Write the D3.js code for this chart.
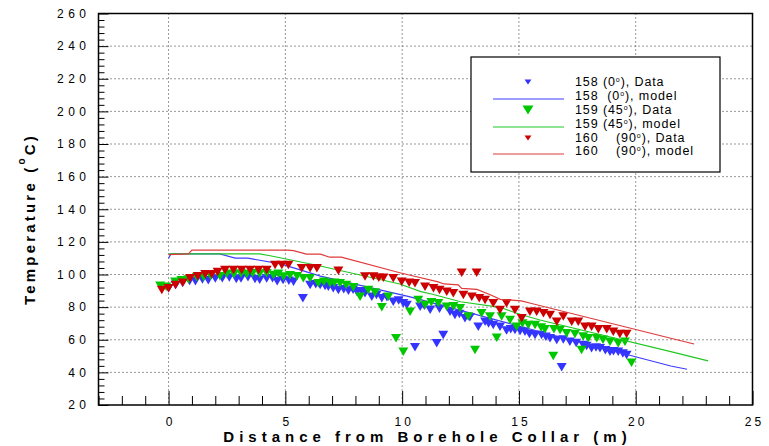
<!DOCTYPE html>
<html><head><meta charset="utf-8">
<script src="https://cdn.jsdelivr.net/npm/d3@7"></script>
<style>
html,body{margin:0;padding:0;background:#fff;}
svg{display:block;font-family:Arial,"Liberation Sans",sans-serif;}
</style></head>
<body>
<svg id="chart" width="769" height="446"></svg>
<script>
// ---------- data ----------
const xTicksMajor = [0, 5, 10, 15, 20, 25];
const yTicksMajor = [20, 40, 60, 80, 100, 120, 140, 160, 180, 200, 220, 240, 260];

const dist158 = [0.0,0.3,0.6,0.9,1.15,1.45,1.7,2.0,2.3,2.6,2.9,3.1,3.4,3.7,3.9,4.2,4.45,4.65,4.9,5.15,5.35,5.75,6.06,6.3,6.49,6.7,6.84,7.05,7.27,7.5,7.7,7.9,8.06,8.25,8.41,8.7,8.9,9.13,9.35,9.62,9.85,10.05,10.2,10.55,10.77,10.95,11.2,11.48,11.6,11.76,12.05,12.26,12.45,12.69,12.9,13.26,13.55,13.7,13.9,14.19,14.47,14.65,14.83,15.05,15.26,15.45,15.69,15.97,16.15,16.33,16.62,16.83,16.9,17.18,17.45,17.75,17.9,18.11,18.3,18.47,18.7,18.9,19.05,19.25,19.45,19.61];
const temp158 = [91.5,93.5,95,96,95.8,97,96.5,97.5,97.7,98.2,97.2,97.5,98.3,97.2,96.8,97.5,97.7,95.8,96.6,96.2,95.6,85.4,93.6,94.0,93.6,93,92.5,91.5,90.5,91,90.1,90.6,89.5,89.8,88.5,86.4,87.5,85.4,86,83.3,84,82.4,81.3,55.4,80.3,80.8,78.4,57.8,79,62.9,77.2,75.2,75.8,73.2,73.8,68,71,70,69,68,65.6,66.5,66,65.3,64.9,63.5,62.9,62.9,61.8,60.9,59.9,43.1,60.2,58.8,58,56.8,56.2,54.8,55.2,54.8,53.5,52.7,53,52.7,51.5,50.7];

const dist159 = [-0.36,-0.1,0.28,0.55,0.85,1.21,1.5,1.8,2.2,2.5,2.8,3.1,3.35,3.6,3.9,4.2,4.49,4.7,4.92,5.2,5.5,5.77,6.06,6.41,6.65,6.91,7.1,7.34,7.6,7.91,8.2,8.55,8.84,9.13,9.41,9.74,10.05,10.34,10.69,10.98,11.25,11.55,11.91,12.2,12.48,12.83,13.12,13.4,13.76,14.05,14.26,14.62,14.9,15.15,15.4,15.69,15.95,16.11,16.47,16.5,16.76,17.04,17.4,17.68,17.75,17.97,18.33,18.6,18.9,19.25,19.54,19.82];
const temp159 = [93.1,92.5,95.6,96.5,97,98.3,98.5,99.2,99,100.5,100.2,100.6,100.3,100.8,100.4,100.7,99.7,100.5,98.7,99.5,99,97.7,97.7,94.6,95.5,94.6,95,94.6,93.5,92.2,86.4,90.5,88.9,79.9,86.4,60.9,52.7,77.2,84.4,81.3,83,82.4,80.3,80.5,79.3,74.2,53.7,76.2,74.2,61.3,74.2,72.1,68,70,69,69,67.5,66.4,50,66.5,66,64,63.5,53.7,62,60.9,60.9,60,58.8,57.8,58.8,45.9];

const dist160 = [-0.29,0,0.3,0.61,0.92,1.25,1.57,1.85,2.1,2.42,2.78,3.13,3.49,3.85,4.2,4.56,4.85,5.13,5.7,6.06,6.35,7.27,8.41,8.77,9.0,9.2,9.62,9.98,10.3,10.55,10.98,11.34,11.6,11.91,12.19,12.55,12.62,12.98,13.19,13.3,13.55,13.9,14.19,14.47,14.83,15.12,15.47,15.76,16.05,16.33,16.62,16.9,17.26,17.54,17.83,18.11,18.4,18.76,19.04,19.32,19.61];
const temp160 = [90.5,91.5,93.5,95,97.7,99,100.1,100.1,101.5,102.8,102.8,102.8,102.8,102.8,102.8,105.8,105.8,105.8,103.8,103.8,103.8,102.3,98.7,98.7,98,98,97.7,95.6,95,94.6,92.5,91.5,90.5,89.5,88.5,101.1,87.4,86.4,101.1,85.5,84.4,82.4,78.3,82.4,78.3,73.2,77.2,77.2,76.2,75.2,71.1,74.2,71.1,71.1,68,68,66.4,66.4,64.9,63.5,63.5];

const model158X = [0,0.1,2.2,2.85,3.4,4.8,6.5,10.3,15.9,21.5,22.2];
const model158T = [110,112.6,112.6,110,110,106.5,99,86.4,64.9,43.9,41.9];
const model159X = [0,3.9,4.35,6.5,9.9,10.8,11.3,12.5,14.2,15,15.9,21.5,23.1];
const model159T = [112.6,112.6,111.5,105.2,94.2,89.5,87.9,83.3,79.9,75.8,72.1,52.7,47];
const model160X = [0,0.85,1.0,5.1,5.35,5.9,6.5,6.9,7.4,9.9,10.3,11.5,11.8,12.4,12.55,13.2,13.8,14.2,15.1,15.5,21.5,22.5];
const model160T = [112.2,112.6,115,115,114.6,112.5,112.5,110.6,110.6,101.1,99.7,95.6,94.2,93.6,91.5,90.9,87.4,84.8,83.8,82.4,60.9,57.4];

const colorsData = ["#3434ff", "#00c800", "#cc0000"];
const colorsLine = ["#3c3cff", "#22c822", "#e03a3a"];

// ---------- layout ----------
const svg = d3.select("#chart");
const L = 98.5, R = 752.5, T = 13.5, B = 405;
const x = d3.scaleLinear().domain([-3, 25]).range([L, R]);
const y = d3.scaleLinear().domain([20, 260]).range([B, T]);

// grid
const grid = svg.append("g").attr("stroke", "#333").attr("stroke-width", 1).attr("stroke-dasharray", "1,3");
xTicksMajor.filter(v => v < 25).forEach(v => {
  grid.append("line").attr("x1", x(v)).attr("x2", x(v)).attr("y1", T).attr("y2", B);
});
yTicksMajor.filter(v => v > 20 && v < 260).forEach(v => {
  grid.append("line").attr("x1", L).attr("x2", R).attr("y1", y(v)).attr("y2", y(v));
});

// x axis ticks (inward)
const xMinor = d3.range(-3, 25.001, 1);
const xa = svg.append("g").attr("transform", `translate(0,${B})`);
xa.call(d3.axisBottom(x).tickValues(xMinor.filter(v => v % 5 !== 0)).tickSize(-9).tickFormat(""));
xa.select(".domain").remove();
const xb = svg.append("g").attr("transform", `translate(0,${B})`);
xb.call(d3.axisBottom(x).tickValues(xTicksMajor).tickSize(-14).tickPadding(0).tickFormat(d3.format("d")));
xb.select(".domain").remove();
xb.selectAll("text").attr("font-size", 12).attr("fill", "#000").attr("y", 12.5)
  .attr("letter-spacing", 3).attr("dx", 1.5).attr("font-family", "Arial, 'Liberation Sans', sans-serif");

// y axis ticks (inward)
const yMinor = d3.range(20, 260.001, 4);
const ya = svg.append("g").attr("transform", `translate(${L},0)`);
ya.call(d3.axisLeft(y).tickValues(yMinor.filter(v => v % 20 !== 0)).tickSize(-6).tickFormat(""));
ya.select(".domain").remove();
const yb = svg.append("g").attr("transform", `translate(${L},0)`);
yb.call(d3.axisLeft(y).tickValues(yTicksMajor).tickSize(-10).tickPadding(8).tickFormat(d3.format("d")));
yb.select(".domain").remove();
yb.selectAll("text").attr("font-size", 12).attr("fill", "#000").attr("letter-spacing", 4.5)
  .attr("font-family", "Arial, 'Liberation Sans', sans-serif");
svg.selectAll("g.tick line").attr("stroke", "#000");

// frame
svg.append("rect").attr("x", L).attr("y", T).attr("width", R - L).attr("height", B - T)
  .attr("fill", "none").attr("stroke", "#000").attr("stroke-width", 1.5);

// marks
const tri = (w, h) => `M${-w/2},${-h/2}L${w/2},${-h/2}L0,${h/2}Z`;
const line = d3.line().x(d => x(d[0])).y(d => y(d[1]));
const dataSets = [[dist158, temp158], [dist159, temp159], [dist160, temp160]];
const modelSets = [[model158X, model158T], [model159X, model159T], [model160X, model160T]];
const plot = svg.append("g");
dataSets.forEach((ds, i) => {
  const pts = ds[0].map((d, k) => [d, ds[1][k]]);
  plot.append("g").selectAll("path").data(pts).join("path")
    .attr("d", tri(10, 8.5))
    .attr("transform", d => `translate(${x(d[0])},${y(d[1])})`)
    .attr("fill", colorsData[i]);
  const mp = modelSets[i][0].map((d, k) => [d, modelSets[i][1][k]]);
  plot.append("path").datum(mp).attr("d", line).attr("fill", "none")
    .attr("stroke", colorsLine[i]).attr("stroke-width", 1.2);
});

// legend
const lg = svg.append("g");
lg.append("rect").attr("x", 471).attr("y", 57).attr("width", 249).attr("height", 115)
  .attr("fill", "#fff").attr("stroke", "#000").attr("stroke-width", 1.2);
const rows = [
  {type: "data", i: 0, y: 86, pre: "158 (0", post: "), Data", tw: 7, th: 5},
  {type: "line", i: 0, y: 100, pre: "158  (0", post: "), model"},
  {type: "data", i: 1, y: 114, pre: "159 (45", post: "), Data", tw: 11, th: 9},
  {type: "line", i: 1, y: 128, pre: "159 (45", post: "), model"},
  {type: "data", i: 2, y: 142, pre: "160    (90", post: "), Data", tw: 7, th: 5},
  {type: "line", i: 2, y: 155, pre: "160    (90", post: "), model"}
];
rows.forEach(r => {
  if (r.type === "data") {
    lg.append("path").attr("d", tri(r.tw, r.th))
      .attr("transform", `translate(528,${r.y - 4})`).attr("fill", colorsData[r.i]);
  } else {
    lg.append("line").attr("x1", 493).attr("x2", 564).attr("y1", r.y - 1).attr("y2", r.y - 1)
      .attr("stroke", colorsLine[r.i]).attr("stroke-width", 1.2);
  }
  const t = lg.append("text").attr("x", 575).attr("y", r.y).attr("font-size", 12.5)
    .attr("letter-spacing", 0.9).attr("fill", "#000").style("white-space", "pre");
  t.append("tspan").text(r.pre);
  t.append("tspan").attr("font-size", 7).attr("dy", -4).text("o");
  t.append("tspan").attr("dy", 4).text(r.post);
});

// axis titles
svg.append("text").attr("x", (L + R) / 2 + 2).attr("y", 442).attr("text-anchor", "middle")
  .attr("font-size", 15).attr("font-weight", "bold").attr("letter-spacing", 5).attr("fill", "#000")
  .text("Distance from Borehole Collar (m)");
const yt = svg.append("text").attr("transform", "translate(35,219) rotate(-90)")
  .attr("text-anchor", "middle").attr("font-size", 15).attr("font-weight", "bold")
  .attr("letter-spacing", 3.2).attr("fill", "#000").style("white-space", "pre");
yt.append("tspan").text("Temperature (");
yt.append("tspan").attr("font-size", 10).attr("dy", -10).text("o");
yt.append("tspan").attr("dy", 10).text("C)");
</script>
</body></html>
